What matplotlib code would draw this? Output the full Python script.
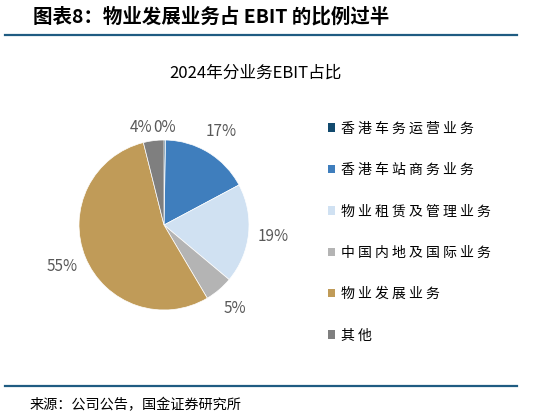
import matplotlib
matplotlib.use('Agg')
import numpy as np
import matplotlib.pyplot as plt
from matplotlib.patches import Patch
from matplotlib.lines import Line2D

plt.rcParams['font.family'] = ['Noto Sans CJK SC', 'DejaVu Sans']

CATEGORIES = ['香港车务运营业务', '香港车站商务业务', '物业租赁及管理业务',
              '中国内地及国际业务', '物业发展业务', '其他']
SHARES = [0.3, 16.9, 18.9, 5.4, 54.6, 3.9]
COLORS = ['#124a6e', '#3f7ebd', '#d0e1f2', '#b4b4b4', '#c09b58', '#7f7f7f']

TITLE = '图表8：物业发展业务占 EBIT 的比例过半'
CHART_TITLE = '2024年分业务EBIT占比'
SOURCE = '来源：公司公告，国金证券研究所'


def spaced(text):
    return ' '.join(text)


fig = plt.figure(figsize=(5.59, 4.19), dpi=100)

# header, rules and footer
fig.text(33 / 559, 1 - 17 / 419, TITLE, fontsize=14, fontweight='bold',
         fontstyle='italic', color='black', va='center', ha='left')
for y in (35, 386):
    fig.add_artist(Line2D([5 / 559, 517 / 559], [1 - y / 419, 1 - y / 419],
                          color='#1f5c82', lw=1.6))
fig.text(30 / 559, 1 - 405 / 419, SOURCE, fontsize=10.2, color='black',
         va='center', ha='left')
fig.text(256 / 559, 1 - 73 / 419, CHART_TITLE, fontsize=12, color='black',
         va='center', ha='center')

# pie
ax = fig.add_axes([(164 - 127.5) / 559, (419 - 225 - 127.5) / 419,
                   255 / 559, 255 / 419])
wedges, texts, autotexts = ax.pie(
    SHARES, colors=COLORS, startangle=90, counterclock=False,
    autopct='%.0f%%', pctdistance=1.29, radius=1.0,
    wedgeprops=dict(edgecolor='white', linewidth=0.5),
    textprops=dict(color='#595959', fontsize=11))

# the two tiny slices at the top sit closer in, side by side
for i, ha in ((0, 'center'), (5, 'right')):
    w = wedges[i]
    ang = np.deg2rad((w.theta1 + w.theta2) / 2)
    autotexts[i].set_position((1.15 * np.cos(ang), 1.15 * np.sin(ang)))
    autotexts[i].set_ha(ha)

ax.set_xlim(-1.5, 1.5)
ax.set_ylim(-1.5, 1.5)
ax.set_aspect('equal')
ax.axis('off')

# legend
handles = [Patch(facecolor=c, edgecolor='none') for c in COLORS]
fig.legend(handles, [spaced(c) for c in CATEGORIES], loc='upper left',
           bbox_to_anchor=(322 / 559, 1 - 116 / 419), frameon=False,
           fontsize=10, handlelength=0.55, handleheight=0.55,
           handletextpad=0.45, labelspacing=1.97, borderaxespad=0)

fig.savefig('out.png', dpi=100)
